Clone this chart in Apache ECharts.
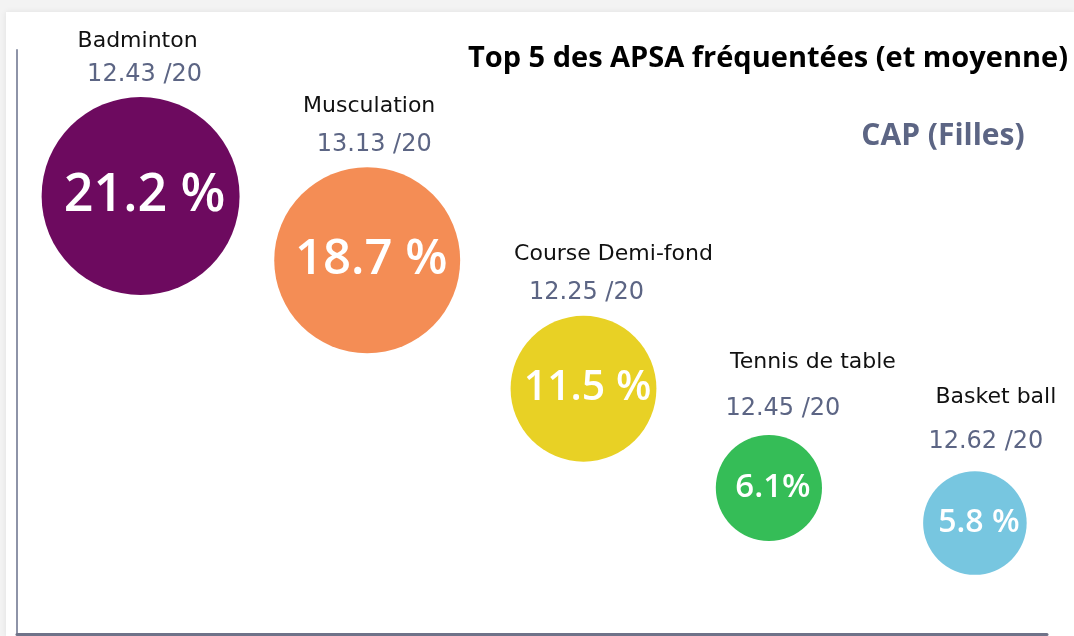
<!DOCTYPE html>
<html>
<head>
<meta charset="utf-8">
<script src="https://cdn.jsdelivr.net/npm/echarts@6/dist/echarts.min.js"></script>
<style>
    html, body { margin: 0; padding: 0; background: #f3f3f3; }
    #chart {
        position: absolute; left: 6px; top: 12px;
        width: 1068px; height: 624px;
        background: #ffffff;
        box-shadow: 0 0 6px rgba(0, 0, 0, 0.08);
    }
</style>
</head>
<body>
<div id="chart"></div>
<script>
'use strict';

// APSA (activités) and their share of students, with the average grade
const activities = ['Badminton', 'Musculation', 'Course Demi-fond', 'Tennis de table', 'Basket ball'];
const shares = [21.2, 18.7, 11.5, 6.1, 5.8];
const shareLabels = ['21.2 %', '18.7 %', '11.5 %', '6.1%', '5.8 %'];
const grades = ['12.43 /20', '13.13 /20', '12.25 /20', '12.45 /20', '12.62 /20'];

// where each bubble sits on the (hidden) 0..100 axes
const xPlace = [12, 34, 55, 73, 93];
const yPlace = [75, 64, 42, 25, 19];

const colors = ['#6d0a5f', '#f48d55', '#e8d125', '#35bd57', '#77c6e0'];

// label layout so the text sits like the original
const nameNudge = [-3, 2, 30, 44, 21];   // horizontal shift of the name line
const gradeNudge = [4, 7, 3, 14, 11];    // horizontal shift of the grade line
const nameGap = [34, 38, 39, 47, 45];    // name centre above grade centre
const gradeLift = [4, 5, 5, 8, 11];      // grade line above the bubble

const bubbleSize = (v) => 43 * Math.sqrt(v);

const font = '"Open Sans", sans-serif';
const textFont = '"DejaVu Sans", sans-serif';

document.addEventListener('DOMContentLoaded', () => {
    const chart = echarts.init(document.getElementById('chart'));

    const points = activities.map((name, i) => ({
        name: name,
        value: [xPlace[i], yPlace[i], shares[i]],
        symbolSize: bubbleSize(shares[i]),
        itemStyle: { color: colors[i], opacity: 1 },
        label: {
            show: true,
            position: 'inside',
            offset: [4, 0],
            formatter: shareLabels[i],
            color: '#ffffff',
            fontFamily: font,
            fontWeight: 600,
            fontSize: Math.round(bubbleSize(shares[i]) * 0.207 + 11)
        }
    }));

    // same points again, invisible, carrying the name + grade above each bubble
    const heads = activities.map((name, i) => {
        const diff = nameNudge[i] - gradeNudge[i];
        return {
            value: [xPlace[i], yPlace[i], shares[i]],
            symbolSize: bubbleSize(shares[i]),
            itemStyle: { color: 'transparent', opacity: 1 },
            label: {
                show: true,
                position: 'top',
                distance: gradeLift[i],
                offset: [gradeNudge[i], 0],
                formatter: '{n|' + name + '}\n{g|' + grades[i] + '}',
                rich: {
                    n: {
                        fontFamily: textFont, fontSize: 22, color: '#111111',
                        lineHeight: 2 * (nameGap[i] - 18),
                        padding: diff > 0 ? [0, 0, 0, 2 * diff] : [0, -2 * diff, 0, 0]
                    },
                    g: { fontFamily: textFont, fontSize: 24, color: '#5c6584', lineHeight: 36 }
                }
            }
        };
    });

    chart.setOption({
        animation: false,
        title: {
            text: 'Top 5 des APSA fréquentées (et moyenne)',
            right: 6,
            top: 32,
            padding: 0,
            textStyle: { fontFamily: font, fontWeight: 'bold', fontSize: 29, color: '#000000' }
        },
        graphic: [{
            type: 'text',
            x: 937,
            y: 124,
            style: {
                text: 'CAP (Filles)',
                fontFamily: font,
                fontWeight: 'bold',
                fontSize: 30,
                fill: '#5c6584',
                textAlign: 'center',
                textVerticalAlign: 'middle'
            }
        }],
        grid: { left: 11, right: 27, top: 38, bottom: 2 },
        xAxis: {
            type: 'value', min: 0, max: 100,
            axisLine: { show: true, onZero: false, lineStyle: { color: '#6f7389', width: 3 } },
            axisTick: { show: false }, axisLabel: { show: false }, splitLine: { show: false }
        },
        yAxis: {
            type: 'value', min: 0, max: 100,
            axisLine: { show: true, onZero: false, lineStyle: { color: '#8e94a8', width: 2 } },
            axisTick: { show: false }, axisLabel: { show: false }, splitLine: { show: false }
        },
        series: [
            { type: 'scatter', symbol: 'circle', data: points, z: 2, itemStyle: { opacity: 1 } },
            { type: 'scatter', symbol: 'circle', data: heads, z: 3, silent: true, itemStyle: { opacity: 1 } }
        ]
    });
});
</script>
</body>
</html>
